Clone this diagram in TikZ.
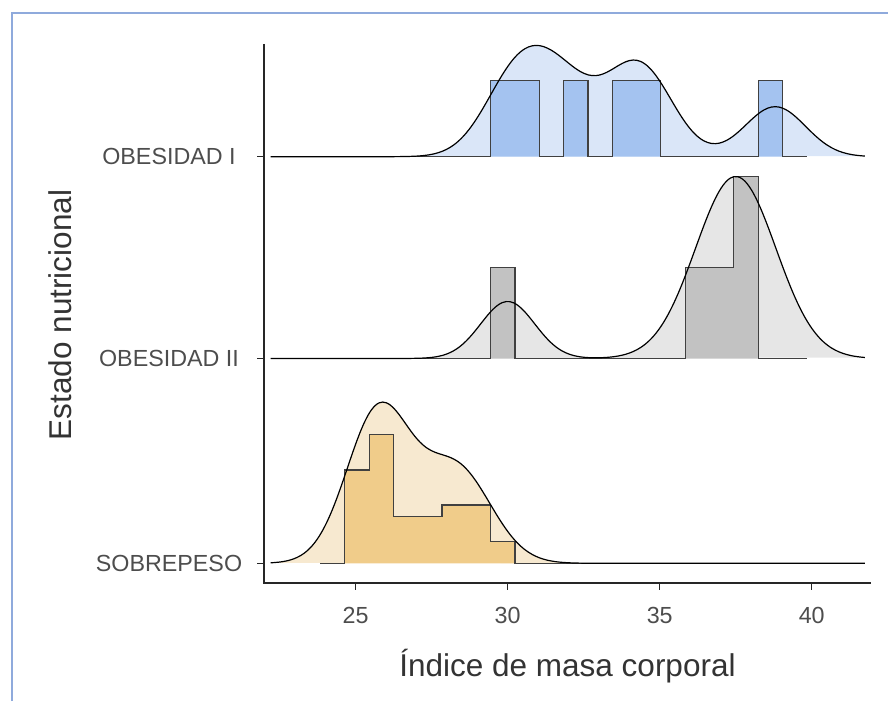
\documentclass[tikz,border=0pt]{standalone}
\usepackage{fontspec}
\setmainfont{Liberation Sans}

\definecolor{framebl}{RGB}{143,170,220}
\definecolor{bluedens}{RGB}{218,230,248}
\definecolor{bluehist}{RGB}{164,195,240}
\definecolor{greydens}{RGB}{230,230,230}
\definecolor{greyhist}{RGB}{194,194,194}
\definecolor{orngdens}{RGB}{247,233,208}
\definecolor{ornghist}{RGB}{240,204,138}
\definecolor{grey30}{RGB}{77,77,77}

\begin{document}
\begin{tikzpicture}[x=1pt,y=-1pt,
    declare function={kern(\t,\m,\s)=exp(-0.5*((\t-\m)/\s)*((\t-\m)/\s));
      dobesa(\t)=50*(kern(\t,30.0,1)+kern(\t,30.9,1)+kern(\t,32.0,1)
        +kern(\t,33.9,1)+kern(\t,34.7,1)+kern(\t,38.8,1));
      dobesb(\t)=57*kern(\t,30.0,0.89)+182*kern(\t,37.5,1.32);
      dsobre(\t)=152*kern(\t,25.75,1.05)+95*kern(\t,28.3,1.15);},
    densline/.style={black,line width=1.2pt},
    histline/.style={draw=black!75,line width=1.1pt},
    axline/.style={black!85,line width=1.2pt},
    ticklab/.style={text=grey30,font=\fontsize{23.3}{28}\selectfont},
    axtitle/.style={text=black!80,font=\fontsize{31.5}{36}\selectfont}]
  \useasboundingbox (0,0) rectangle (888,701);
  \draw[framebl,line width=2pt] (12,701) -- (12,13.5) -- (888,13.5);

  % OBESIDAD I
  \begin{scope}[shift={(-404.3pt,-156.7pt)},x=30.4pt,y=1pt]
    \fill[bluedens] plot[domain=22.2:41.75,samples=160,smooth] (\x,{dobesa(\x)});
    \filldraw[histline,fill=bluehist] (23.84,0) -- (29.44,0) -- (29.44,76)
      -- (31.04,76) -- (31.04,0) -- (31.84,0) -- (31.84,76) -- (32.64,76)
      -- (32.64,0) -- (33.44,0) -- (33.44,76) -- (35.04,76) -- (35.04,0)
      -- (38.24,0) -- (38.24,76) -- (39.04,76) -- (39.04,0) -- (39.84,0);
    \draw[densline] plot[domain=22.2:41.75,samples=160,smooth] (\x,{dobesa(\x)});
  \end{scope}

  % OBESIDAD II
  \begin{scope}[shift={(-404.3pt,-358.5pt)},x=30.4pt,y=1pt]
    \fill[greydens] plot[domain=22.2:41.75,samples=160,smooth] (\x,{dobesb(\x)});
    \filldraw[histline,fill=greyhist] (23.84,0) -- (29.44,0) -- (29.44,91)
      -- (30.24,91) -- (30.24,0) -- (35.84,0) -- (35.84,91) -- (37.44,91)
      -- (37.44,182) -- (38.24,182) -- (38.24,0) -- (39.84,0);
    \draw[densline] plot[domain=22.2:41.75,samples=160,smooth] (\x,{dobesb(\x)});
  \end{scope}

  % SOBREPESO
  \begin{scope}[shift={(-404.3pt,-563.3pt)},x=30.4pt,y=1pt]
    \fill[orngdens] plot[domain=22.2:41.75,samples=160,smooth] (\x,{dsobre(\x)});
    \filldraw[histline,fill=ornghist] (23.84,0) -- (24.64,0) -- (24.64,93.3)
      -- (25.44,93.3) -- (25.44,128.4) -- (26.24,128.4) -- (26.24,46.7)
      -- (27.84,46.7) -- (27.84,58.3) -- (29.44,58.3) -- (29.44,22) -- (30.24,22)
      -- (30.24,0) -- (39.84,0);
    \draw[densline] plot[domain=22.2:41.75,samples=160,smooth] (\x,{dsobre(\x)});
  \end{scope}

  % axes
  \draw[axline] (264,44) -- (264,583) -- (871,583);
  \foreach \v in {25,30,35,40} {
    \draw[axline] ({355.7+(\v-25)*30.4},583) -- ++(0,7);
    \node[ticklab,anchor=base] (xt\v) at ({355.7+(\v-25)*30.4},623.5) {\v};
  }
  \foreach \yy/\nm/\txt in {156.7/obI/OBESIDAD I,358.5/obII/OBESIDAD II,563.3/sob/SOBREPESO} {
    \draw[axline] (257,\yy) -- (264,\yy);
    \node[ticklab] (yt\nm) at (169,\yy) {\txt};
  }
  \node[axtitle,anchor=base] (xtitle) at (567.5,676) {Índice de masa corporal};
  \node[axtitle,anchor=base,rotate=90] (ytitle) at (71.5,315) {Estado nutricional};
\end{tikzpicture}
\end{document}
